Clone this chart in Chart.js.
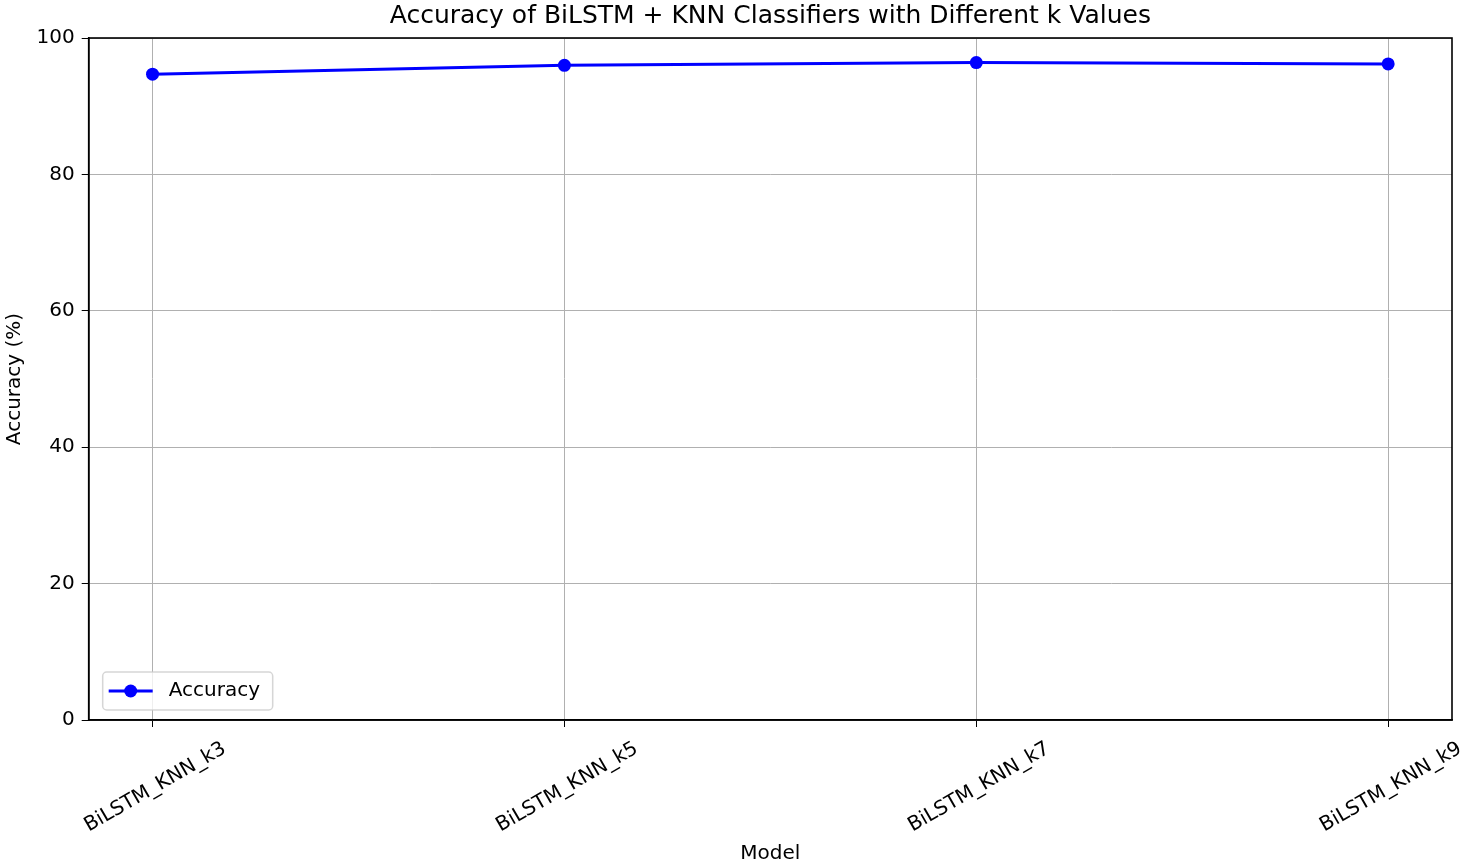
<!DOCTYPE html>
<html>
<head>
<meta charset="utf-8">
<script src="https://cdn.jsdelivr.net/npm/chart.js@4.4.1/dist/chart.umd.min.js"></script>
<style>
  html, body { margin: 0; padding: 0; background: #ffffff; }
  canvas { display: block; }
</style>
</head>
<body>
<canvas id="chart" width="1464" height="866"></canvas>
<script>
// Data
const models = ['BiLSTM_KNN_k3', 'BiLSTM_KNN_k5', 'BiLSTM_KNN_k7', 'BiLSTM_KNN_k9'];
const accuracy = [94.7, 96.0, 96.4, 96.2];
const yTicks = [0, 20, 40, 60, 80, 100];
const chartTitle = 'Accuracy of BiLSTM + KNN Classifiers with Different k Values';

const FONT = "'DejaVu Sans', 'Liberation Sans', sans-serif";

// Title centred over the plot area, frame round it (matplotlib spines) and the legend box
const framePlugin = {
    id: 'frame',
    afterDraw(chart) {
        const { ctx, chartArea } = chart;
        ctx.save();
        ctx.fillStyle = '#000000';
        ctx.font = '25px ' + FONT;
        ctx.textAlign = 'center';
        ctx.textBaseline = 'middle';
        ctx.fillText(chartTitle, (chartArea.left + chartArea.right) / 2, 16);

        ctx.strokeStyle = '#000000';
        ctx.lineWidth = 1.6;
        ctx.strokeRect(chartArea.left, chartArea.top, chartArea.right - chartArea.left, chartArea.bottom - chartArea.top);

        // legend, lower left
        const ds = chart.data.datasets[0];
        const bx = chartArea.left + 14;
        const by = chartArea.bottom - 48;
        const bw = 170, bh = 38;
        ctx.globalAlpha = 0.8;
        ctx.fillStyle = '#ffffff';
        ctx.strokeStyle = '#cccccc';
        ctx.lineWidth = 1.5;
        ctx.beginPath();
        ctx.roundRect(bx, by, bw, bh, 4);
        ctx.fill();
        ctx.stroke();
        ctx.globalAlpha = 1;
        const cy = by + bh / 2;
        ctx.strokeStyle = ds.borderColor;
        ctx.lineWidth = ds.borderWidth;
        ctx.beginPath();
        ctx.moveTo(bx + 6, cy);
        ctx.lineTo(bx + 50, cy);
        ctx.stroke();
        ctx.fillStyle = ds.pointBackgroundColor;
        ctx.beginPath();
        ctx.arc(bx + 28, cy, ds.pointRadius, 0, Math.PI * 2);
        ctx.fill();
        ctx.fillStyle = '#000000';
        ctx.font = '20px ' + FONT;
        ctx.textBaseline = 'middle';
        ctx.textAlign = 'left';
        ctx.fillText(ds.label, bx + 66, cy);
        ctx.restore();
    }
};

new Chart(document.getElementById('chart'), {
    type: 'line',
    data: {
        datasets: [{
            label: 'Accuracy',
            data: accuracy.map((v, i) => ({ x: i, y: v })),
            borderColor: '#0000ff',
            backgroundColor: '#0000ff',
            pointBackgroundColor: '#0000ff',
            pointBorderColor: '#0000ff',
            borderWidth: 3,
            pointRadius: 6.5,
            pointBorderWidth: 0,
            tension: 0,
            fill: false
        }]
    },
    options: {
        responsive: false,
        animation: false,
        devicePixelRatio: 1,
        layout: { padding: { left: 0, right: 12, top: 38, bottom: 0 } },
        plugins: {
            legend: { display: false },
            tooltip: { enabled: false },
            title: { display: false }
        },
        scales: {
            x: {
                type: 'linear',
                min: -0.155,
                max: models.length - 1 + 0.155,
                afterBuildTicks: (scale) => { scale.ticks = models.map((m, i) => ({ value: i })); },
                afterFit: (scale) => { scale.height = 146; },
                grid: { color: '#b0b0b0', lineWidth: 1, tickColor: '#000000', tickLength: 7, drawOnChartArea: true },
                border: { display: true, color: '#000000', width: 1.6 },
                ticks: {
                    color: '#000000',
                    font: { family: FONT, size: 20 },
                    padding: 10,
                    autoSkip: false,
                    minRotation: 30,
                    maxRotation: 30,
                    labelOffset: 72,
                    callback: (v) => models[v]
                },
                title: {
                    display: true,
                    text: 'Model',
                    color: '#000000',
                    font: { family: FONT, size: 20 },
                    padding: { top: 0, bottom: 0 }
                }
            },
            y: {
                min: 0,
                max: 100,
                afterBuildTicks: (scale) => { scale.ticks = yTicks.map(v => ({ value: v })); },
                afterFit: (scale) => { scale.width = 86; },
                grid: { color: '#b0b0b0', lineWidth: 1, tickColor: '#000000', tickLength: 7 },
                border: { display: true, color: '#000000', width: 1.6 },
                ticks: {
                    color: '#000000',
                    font: { family: FONT, size: 20 },
                    padding: 7
                },
                title: {
                    display: true,
                    text: 'Accuracy (%)',
                    color: '#000000',
                    font: { family: FONT, size: 20 },
                    padding: { top: 0, bottom: 0 }
                }
            }
        }
    },
    plugins: [framePlugin]
});
</script>
</body>
</html>
